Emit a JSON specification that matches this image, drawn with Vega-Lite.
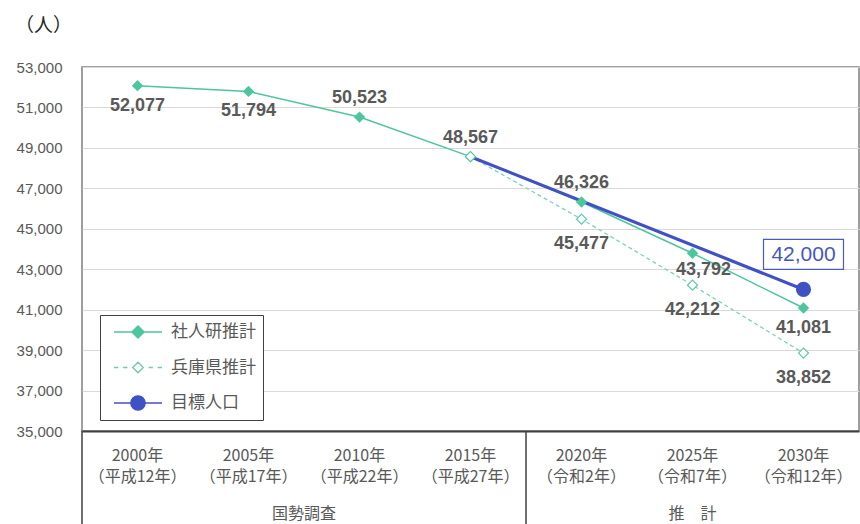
{
  "$schema": "https://vega.github.io/schema/vega-lite/v6.json",
  "width": 777,
  "height": 364,
  "autosize": {"type": "none"},
  "padding": {"left": 82, "top": 67, "right": 1, "bottom": 93},
  "background": "white",
  "title": {"text": "（人）", "anchor": "start", "frame": "group", "dx": -67, "offset": 24, "fontSize": 19, "font": "Noto Sans CJK JP", "fontWeight": "normal", "color": "#262626"},
  "config": {"view": {"stroke": "#7f7f7f", "strokeWidth": 1.5}, "font": "Noto Sans CJK JP"},
  "datasets": {
    "pop": [
      {"series": "社人研推計", "year": "2000年", "value": 52077},
      {"series": "社人研推計", "year": "2005年", "value": 51794},
      {"series": "社人研推計", "year": "2010年", "value": 50523},
      {"series": "社人研推計", "year": "2015年", "value": 48567},
      {"series": "社人研推計", "year": "2020年", "value": 46326},
      {"series": "社人研推計", "year": "2025年", "value": 43792},
      {"series": "社人研推計", "year": "2030年", "value": 41081},
      {"series": "兵庫県推計", "year": "2015年", "value": 48567},
      {"series": "兵庫県推計", "year": "2020年", "value": 45477},
      {"series": "兵庫県推計", "year": "2025年", "value": 42212},
      {"series": "兵庫県推計", "year": "2030年", "value": 38852},
      {"series": "目標人口", "year": "2015年", "value": 48567},
      {"series": "目標人口", "year": "2030年", "value": 42000}
    ],
    "groups": [{"group": "国勢調査"}, {"group": "推　計"}],
    "dividers": [{"year": "2000年"}, {"year": "2020年"}]
  },
  "layer": [
    {
      "data": {"name": "dividers"},
      "mark": {"type": "rule", "color": "#404040", "strokeWidth": 1.5},
      "encoding": {
        "x": {"field": "year", "type": "nominal", "bandPosition": 0,
          "scale": {"type": "band", "domain": ["2000年", "2005年", "2010年", "2015年", "2020年", "2025年", "2030年"], "paddingInner": 0, "paddingOuter": 0},
          "axis": {"title": null, "ticks": false, "domain": true, "domainColor": "#404040", "domainWidth": 2, "grid": false,
            "labelFont": "Noto Sans CJK JP", "labelFontSize": 16, "labelColor": "#595959", "labelPadding": 16, "labelLineHeight": 21, "labelAngle": 0,
            "labelExpr": "[datum.value, {'2000年':'（平成12年）','2005年':'（平成17年）','2010年':'（平成22年）','2015年':'（平成27年）','2020年':'（令和2年）','2025年':'（令和7年）','2030年':'（令和12年）'}[datum.value]]"}},
        "y": {"datum": 35000, "type": "quantitative",
          "scale": {"domain": [35000, 53000], "nice": false, "zero": false},
          "axis": {"title": null, "values": [35000, 37000, 39000, 41000, 43000, 45000, 47000, 49000, 51000, 53000], "format": ",d",
            "domain": false, "ticks": false, "grid": true, "gridColor": "#d9d9d9", "gridWidth": 1,
            "labelFont": "Liberation Sans", "labelFontSize": 15, "labelColor": "#595959", "labelPadding": 20}},
        "y2": {"datum": 30000}
      }
    },
    {
      "data": {"name": "groups"},
      "transform": [{"filter": "datum.group == '国勢調査'"}],
      "mark": {"type": "text", "fontSize": 16, "color": "#595959", "font": "Noto Sans CJK JP", "yOffset": 83, "baseline": "middle"},
      "encoding": {
        "x": {"datum": "2005年", "type": "nominal", "bandPosition": 1},
        "y": {"datum": 35000, "type": "quantitative"},
        "text": {"field": "group"}
      }
    },
    {
      "data": {"name": "groups"},
      "transform": [{"filter": "datum.group == '推　計'"}],
      "mark": {"type": "text", "fontSize": 16, "color": "#595959", "font": "Noto Sans CJK JP", "yOffset": 83, "baseline": "middle"},
      "encoding": {
        "x": {"datum": "2025年", "type": "nominal", "bandPosition": 0.5},
        "y": {"datum": 35000, "type": "quantitative"},
        "text": {"field": "group"}
      }
    },
    {
      "data": {"name": "pop"},
      "transform": [{"filter": "datum.series == '兵庫県推計'"}],
      "mark": {"type": "line", "color": "#80d2b7", "strokeWidth": 1.3, "strokeDash": [4, 3]},
      "encoding": {
        "x": {"field": "year", "type": "nominal", "bandPosition": 0.5},
        "y": {"field": "value", "type": "quantitative"}
      }
    },
    {
      "data": {"name": "pop"},
      "transform": [{"filter": "datum.series == '社人研推計'"}],
      "mark": {"type": "line", "color": "#4cc69b", "strokeWidth": 1.5},
      "encoding": {
        "x": {"field": "year", "type": "nominal", "bandPosition": 0.5},
        "y": {"field": "value", "type": "quantitative"}
      }
    },
    {
      "data": {"name": "pop"},
      "transform": [{"filter": "datum.series == '目標人口'"}],
      "mark": {"type": "line", "color": "#3f51c5", "strokeWidth": 3.2},
      "encoding": {
        "x": {"field": "year", "type": "nominal", "bandPosition": 0.5},
        "y": {"field": "value", "type": "quantitative"}
      }
    },
    {
      "data": {"name": "pop"},
      "transform": [{"filter": "datum.series == '社人研推計'"}],
      "mark": {"type": "point", "shape": "diamond", "filled": true, "size": 130, "color": "#4cc69b", "opacity": 1},
      "encoding": {
        "x": {"field": "year", "type": "nominal", "bandPosition": 0.5},
        "y": {"field": "value", "type": "quantitative"}
      }
    },
    {
      "data": {"name": "pop"},
      "transform": [{"filter": "datum.series == '兵庫県推計'"}],
      "mark": {"type": "point", "shape": "diamond", "filled": false, "fill": "white", "stroke": "#5cc9a6", "strokeWidth": 1.2, "size": 100, "opacity": 1, "fillOpacity": 1},
      "encoding": {
        "x": {"field": "year", "type": "nominal", "bandPosition": 0.5},
        "y": {"field": "value", "type": "quantitative"}
      }
    },
    {
      "data": {"name": "pop"},
      "transform": [{"filter": "datum.series == '目標人口' && datum.year == '2030年'"}],
      "mark": {"type": "point", "shape": "circle", "filled": true, "size": 230, "color": "#3f51c5", "opacity": 1},
      "encoding": {
        "x": {"field": "year", "type": "nominal", "bandPosition": 0.5},
        "y": {"field": "value", "type": "quantitative"}
      }
    },
    {
      "data": {"name": "pop"},
      "mark": {"type": "point", "opacity": 0},
      "encoding": {
        "x": {"field": "year", "type": "nominal", "bandPosition": 0.5},
        "y": {"field": "value", "type": "quantitative"},
        "shape": {"field": "series", "type": "nominal",
          "scale": {"domain": ["社人研推計", "兵庫県推計", "目標人口"],
            "range": [
              "M-1,0H1M0,-0.25L0.25,0L0,0.25L-0.25,0Z",
              "M-1,0H-0.82M-0.62,0H-0.44M0.44,0H0.62M0.82,0H1M0,-0.22L0.22,0L0,0.22L-0.22,0Z",
              "M-1,0H1M0.3,0A0.3,0.3 0 1,1 -0.3,0A0.3,0.3 0 1,1 0.3,0Z"
            ]},
          "legend": {"title": null, "orient": "none", "legendX": 18, "legendY": 248,
            "strokeColor": "#404040", "fillColor": "white", "padding": 7,
            "symbolSize": 2304, "symbolOpacity": 1, "clipHeight": 20, "symbolOffset": 6,
            "labelFont": "Noto Sans CJK JP", "labelFontSize": 17, "labelColor": "#595959", "labelOffset": 8, "rowPadding": 15.5}
        },
        "stroke": {"field": "series", "type": "nominal",
          "scale": {"domain": ["社人研推計", "兵庫県推計", "目標人口"], "range": ["#4cc69b", "#6fcdae", "#3f51c5"]},
          "legend": {"title": null}},
        "fill": {"field": "series", "type": "nominal",
          "scale": {"domain": ["社人研推計", "兵庫県推計", "目標人口"], "range": ["#4cc69b", "#ffffff", "#3f51c5"]},
          "legend": {"title": null}},
        "strokeWidth": {"field": "series", "type": "ordinal",
          "scale": {"domain": ["社人研推計", "兵庫県推計", "目標人口"], "range": [1.5, 1.3, 3.2]},
          "legend": {"title": null}}
      }
    },
    {
      "data": {"name": "pop"},
      "transform": [{"filter": "datum.series == '社人研推計' && indexof(['2010年','2015年','2020年'], datum.year) >= 0"}],
      "mark": {"type": "text", "font": "Liberation Sans", "fontWeight": "bold", "fontSize": 18, "color": "#595959", "dy": -19},
      "encoding": {
        "x": {"field": "year", "type": "nominal", "bandPosition": 0.5},
        "y": {"field": "value", "type": "quantitative"},
        "text": {"field": "value", "type": "quantitative", "format": ","}
      }
    },
    {
      "data": {"name": "pop"},
      "transform": [{"filter": "datum.series == '社人研推計' && indexof(['2000年','2005年','2030年'], datum.year) >= 0"}],
      "mark": {"type": "text", "font": "Liberation Sans", "fontWeight": "bold", "fontSize": 18, "color": "#595959", "dy": 20},
      "encoding": {
        "x": {"field": "year", "type": "nominal", "bandPosition": 0.5},
        "y": {"field": "value", "type": "quantitative"},
        "text": {"field": "value", "type": "quantitative", "format": ","}
      }
    },
    {
      "data": {"name": "pop"},
      "transform": [{"filter": "datum.series == '社人研推計' && datum.year == '2025年'"}],
      "mark": {"type": "text", "font": "Liberation Sans", "fontWeight": "bold", "fontSize": 18, "color": "#595959", "dy": 17, "dx": 11},
      "encoding": {
        "x": {"field": "year", "type": "nominal", "bandPosition": 0.5},
        "y": {"field": "value", "type": "quantitative"},
        "text": {"field": "value", "type": "quantitative", "format": ","}
      }
    },
    {
      "data": {"name": "pop"},
      "transform": [{"filter": "datum.series == '兵庫県推計' && datum.year != '2015年'"}],
      "mark": {"type": "text", "font": "Liberation Sans", "fontWeight": "bold", "fontSize": 18, "color": "#595959", "dy": 25},
      "encoding": {
        "x": {"field": "year", "type": "nominal", "bandPosition": 0.5},
        "y": {"field": "value", "type": "quantitative"},
        "text": {"field": "value", "type": "quantitative", "format": ","}
      }
    },
    {
      "data": {"name": "pop"},
      "transform": [{"filter": "datum.series == '目標人口' && datum.year == '2030年'"}],
      "mark": {"type": "point", "shape": "M-1,-0.375H1V0.375H-1Z", "size": 6400, "filled": false, "fill": "white", "fillOpacity": 1, "stroke": "#4a5cc0", "strokeWidth": 1.2, "opacity": 1, "yOffset": -35},
      "encoding": {
        "x": {"field": "year", "type": "nominal", "bandPosition": 0.5},
        "y": {"field": "value", "type": "quantitative"}
      }
    },
    {
      "data": {"name": "pop"},
      "transform": [{"filter": "datum.series == '目標人口' && datum.year == '2030年'"}],
      "mark": {"type": "text", "font": "Liberation Sans", "fontSize": 21, "color": "#4656c2", "yOffset": -34, "baseline": "middle"},
      "encoding": {
        "x": {"field": "year", "type": "nominal", "bandPosition": 0.5},
        "y": {"field": "value", "type": "quantitative"},
        "text": {"field": "value", "type": "quantitative", "format": ","}
      }
    }
  ]
}
